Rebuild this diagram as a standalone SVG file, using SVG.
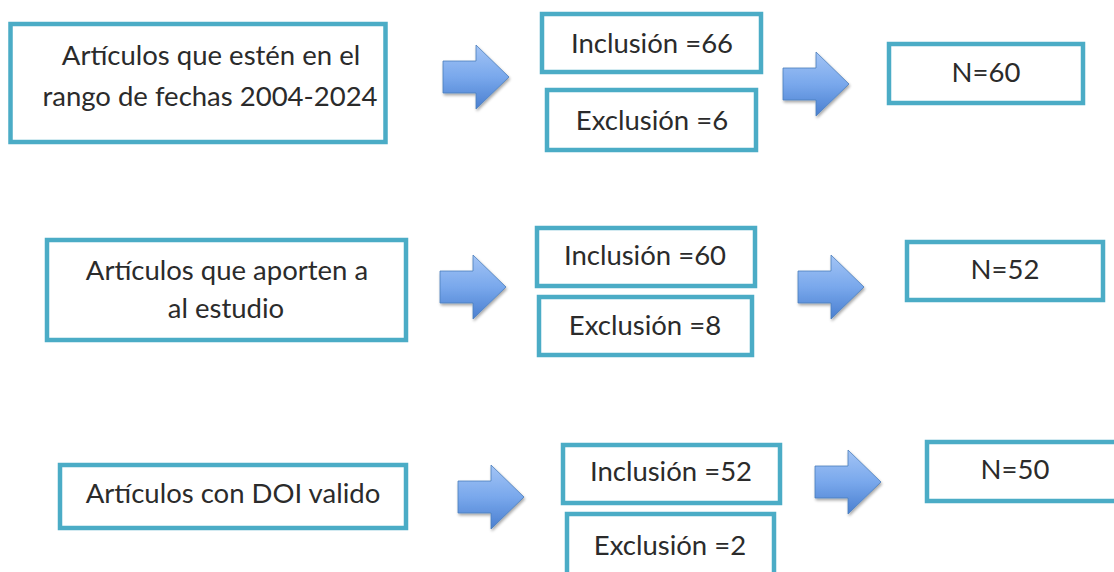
<svg xmlns="http://www.w3.org/2000/svg" width="1114" height="572" viewBox="0 0 1114 572">
<style>
.box{fill:#fff;stroke:#4bacc6;stroke-width:4.5}
.t{font-family:Lato,"Open Sans","Liberation Sans",sans-serif;font-size:27.5px;fill:#2b2b2b;text-anchor:middle}
.arr{fill:url(#g);stroke:#4a7ebb;stroke-width:0.8;filter:url(#sh)}
</style>
<defs>
<linearGradient id="g" x1="0" y1="0" x2="0" y2="1">
<stop offset="0" stop-color="#a3c4f5"/>
<stop offset="0.5" stop-color="#79a8ec"/>
<stop offset="1" stop-color="#4a7fd0"/>
</linearGradient>
<filter id="sh" x="-20%" y="-20%" width="150%" height="150%">
<feGaussianBlur in="SourceAlpha" stdDeviation="1.5"/>
<feOffset dx="1" dy="2" result="o"/>
<feComponentTransfer><feFuncA type="linear" slope="0.35"/></feComponentTransfer>
<feMerge><feMergeNode/><feMergeNode in="SourceGraphic"/></feMerge>
</filter>
<path id="ar" d="M0,16 H33 V0 L66,32 L33,64 V48 H0 Z"/>
</defs>

<g id="connectors">
<use href="#ar" class="arr" x="443" y="45"/>
<use href="#ar" class="arr" x="783" y="52"/>
<use href="#ar" class="arr" x="440" y="255"/>
<use href="#ar" class="arr" x="798" y="255"/>
<use href="#ar" class="arr" x="458" y="465"/>
<use href="#ar" class="arr" x="815" y="450"/>
</g>

<g id="n1"><rect class="box" x="10.5" y="24" width="375" height="118"/>
<text class="t" x="211" y="65">Artículos que estén en el</text>
<text class="t" x="210" y="106">rango de fechas 2004-2024</text></g>
<g id="n1i"><rect class="box" x="542" y="14" width="219" height="58"/><text class="t" x="652" y="53">Inclusión =66</text></g>
<g id="n1e"><rect class="box" x="547" y="90" width="209" height="60"/><text class="t" x="652" y="130">Exclusión =6</text></g>
<g id="n1n"><rect class="box" x="889" y="44" width="194" height="59"/><text class="t" x="986" y="82">N=60</text></g>

<g id="n2"><rect class="box" x="47" y="240" width="359" height="100"/>
<text class="t" x="227" y="280">Artículos que aporten a</text>
<text class="t" x="226" y="318">al estudio</text></g>
<g id="n2i"><rect class="box" x="537" y="228" width="218" height="58"/><text class="t" x="645" y="265">Inclusión =60</text></g>
<g id="n2e"><rect class="box" x="539" y="297" width="213" height="58"/><text class="t" x="645" y="335">Exclusión =8</text></g>
<g id="n2n"><rect class="box" x="907" y="242" width="196" height="58"/><text class="t" x="1005" y="279">N=52</text></g>

<g id="n3"><rect class="box" x="60" y="465" width="346" height="63"/>
<text class="t" x="233" y="503">Artículos con DOI valido</text></g>
<g id="n3i"><rect class="box" x="563" y="445" width="217" height="58"/><text class="t" x="671" y="481">Inclusión =52</text></g>
<g id="n3e"><rect class="box" x="567" y="514" width="207" height="62"/><text class="t" x="670" y="555">Exclusión =2</text></g>
<g id="n3n"><rect class="box" x="927" y="442" width="194" height="59"/><text class="t" x="1015" y="479">N=50</text></g>
</svg>
